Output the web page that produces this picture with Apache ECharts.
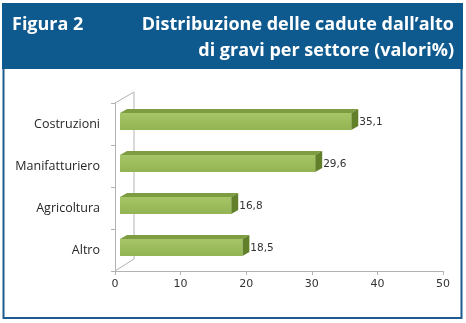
<!DOCTYPE html>
<html>
<head>
<meta charset="utf-8">
<script src="https://cdn.jsdelivr.net/npm/echarts@6/dist/echarts.min.js"></script>
<style>
  html, body { margin: 0; padding: 0; background: #ffffff; }
  #chart { width: 466px; height: 323px; }
</style>
</head>
<body>
<div id="chart"></div>
<script>
// Sectors (top to bottom) and share of falls from height, in percent
const categories = ['Costruzioni', 'Manifatturiero', 'Agricoltura', 'Altro'];
const values = [35.1, 29.6, 16.8, 18.5];
const valueLabels = ['35,1', '29,6', '16,8', '18,5'];
const xTicks = [0, 10, 20, 30, 40, 50];

const titleLeft = 'Figura 2';
const titleLines = ["Distribuzione delle cadute dall\u2019alto", 'di gravi per settore (valori%)'];

const chart = echarts.init(document.getElementById('chart'), null, { renderer: 'canvas' });

const TOP = '#7e9c42';
const SIDE = '#62802a';
const AXIS = '#b3b3b3';

// depth of the 3D box wall and of each bar
const WALL_DX = 19, WALL_DY = -11;
const BAR_DX = 7, BAR_DY = -4;

function renderBar(params, api) {
  const cat = api.value(0);
  const val = api.value(1);
  const c0 = api.coord([0, cat]);
  const c1 = api.coord([val, cat]);
  const h = 17;
  const cy = c0[1] - 2.5;
  const x0 = c0[0] + 5;
  const x1 = c1[0] + 6;
  const y0 = cy - h / 2;
  const y1 = cy + h / 2;
  return {
    type: 'group',
    children: [
      {
        type: 'polygon',
        shape: { points: [[x0, y0], [x1, y0], [x1 + BAR_DX, y0 + BAR_DY], [x0 + BAR_DX, y0 + BAR_DY]] },
        style: { fill: TOP }
      },
      {
        type: 'polygon',
        shape: { points: [[x1, y0], [x1 + BAR_DX, y0 + BAR_DY], [x1 + BAR_DX, y1 + BAR_DY], [x1, y1]] },
        style: { fill: SIDE }
      },
      {
        type: 'rect',
        shape: { x: x0, y: y0, width: x1 - x0, height: h },
        style: {
          fill: new echarts.graphic.LinearGradient(0, 0, 0, 1, [
            { offset: 0, color: '#a6c567' },
            { offset: 1, color: '#93b452' }
          ])
        }
      },
      {
        type: 'text',
        style: {
          text: valueLabels[params.dataIndex],
          x: x1 + BAR_DX + 1,
          y: cy + 1,
          verticalAlign: 'middle',
          align: 'left',
          font: '10.5px "DejaVu Sans"',
          fill: '#333333'
        }
      }
    ]
  };
}

function renderWall(params, api) {
  const cs = params.coordSys;
  const left = cs.x, top = cs.y, bottom = cs.y + cs.height;
  const line = (a, b) => ({
    type: 'line',
    shape: { x1: a[0], y1: a[1], x2: b[0], y2: b[1] },
    style: { stroke: AXIS, lineWidth: 1 }
  });
  return {
    type: 'group',
    silent: true,
    children: [
      line([left, top], [left + WALL_DX, top + WALL_DY]),
      line([left + WALL_DX, top + WALL_DY], [left + WALL_DX, bottom + WALL_DY - 1]),
      line([left, bottom], [left + WALL_DX, bottom + WALL_DY - 1])
    ]
  };
}

const option = {
  animation: false,
  backgroundColor: '#ffffff',
  graphic: [
    {
      type: 'rect',
      shape: { x: 3.5, y: 68, width: 458, height: 250 },
      style: { fill: '#ffffff', stroke: '#1f5b8c', lineWidth: 2 },
      z: -10
    },
    {
      type: 'rect',
      shape: { x: 2, y: 3, width: 461, height: 66 },
      style: { fill: '#0e5a8e' },
      z: -5
    },
    {
      type: 'text',
      style: {
        text: titleLeft,
        x: 12, y: 25,
        verticalAlign: 'middle',
        font: 'bold 18px "Open Sans"',
        fill: '#ffffff'
      }
    },
    {
      type: 'text',
      style: {
        text: titleLines[0],
        x: 454, y: 25,
        align: 'right',
        verticalAlign: 'middle',
        font: 'bold 18px "Open Sans"',
        fill: '#ffffff'
      }
    },
    {
      type: 'text',
      style: {
        text: titleLines[1],
        x: 454, y: 51,
        align: 'right',
        verticalAlign: 'middle',
        font: 'bold 18px "Open Sans"',
        fill: '#ffffff'
      }
    }
  ],
  grid: { left: 115, right: 23, top: 103, bottom: 52, containLabel: false },
  xAxis: {
    type: 'value',
    min: xTicks[0],
    max: xTicks[xTicks.length - 1],
    interval: 10,
    splitLine: { show: false },
    axisLine: { show: true, lineStyle: { color: AXIS, width: 1 } },
    axisTick: { show: true, length: 4, lineStyle: { color: AXIS } },
    axisLabel: { margin: 8, color: '#333333', fontFamily: 'DejaVu Sans', fontSize: 11 }
  },
  yAxis: {
    type: 'category',
    data: categories,
    inverse: true,
    axisLine: { show: true, lineStyle: { color: AXIS, width: 1 } },
    axisTick: { show: true, length: 4, alignWithLabel: false, lineStyle: { color: AXIS } },
    axisLabel: { margin: 15, color: '#262626', fontFamily: 'Open Sans', fontSize: 12.5 },
    splitLine: { show: false }
  },
  series: [
    {
      type: 'custom',
      renderItem: renderWall,
      data: [[0, 0]],
      z: 1,
      silent: true
    },
    {
      type: 'custom',
      renderItem: renderBar,
      encode: { y: 0, x: 1 },
      data: categories.map((c, i) => [i, values[i]]),
      z: 5
    }
  ]
};

chart.setOption(option);
</script>
</body>
</html>
